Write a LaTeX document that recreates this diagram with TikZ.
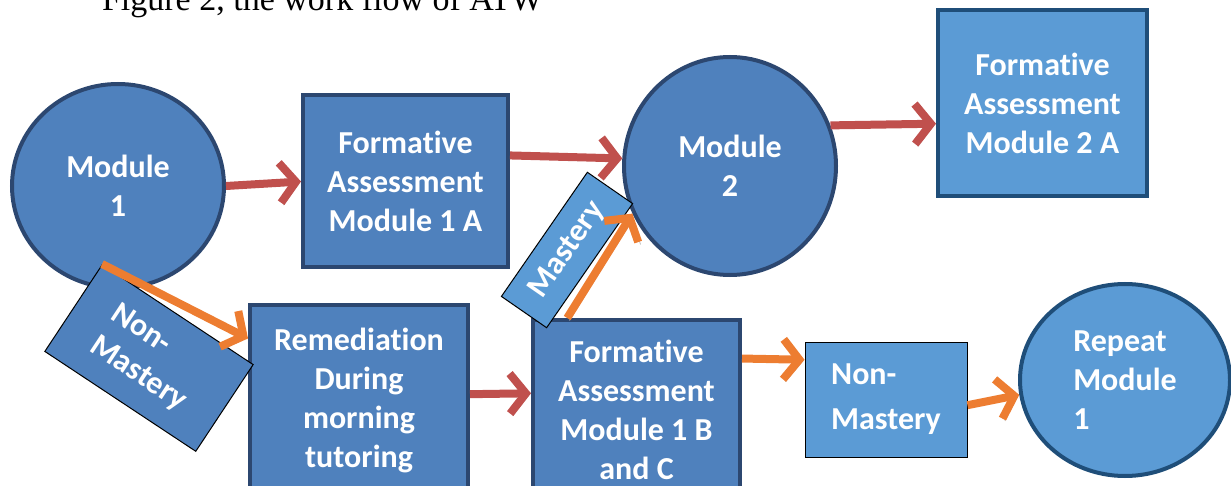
\documentclass[tikz,border=0pt]{standalone}
\usepackage{fontspec}
\setmainfont{Carlito}[Ligatures=NoCommon]
\newfontfamily\capfont{Liberation Serif}
\usetikzlibrary{arrows.meta,shapes.geometric}

\definecolor{modblue}{HTML}{4F81BD}
\definecolor{litblue}{HTML}{5B9BD5}
\definecolor{edgeblue}{HTML}{2C4770}
\definecolor{rimblue}{HTML}{1F4E79}
\definecolor{arrred}{HTML}{C0504D}
\definecolor{arrorange}{HTML}{ED7D31}

\begin{document}
\begin{tikzpicture}[x=0.5pt,y=-0.5pt,
    txt/.style={text=white,font=\bfseries\fontsize{16}{19.5}\selectfont,align=center},
    box/.style={txt,draw=edgeblue,line width=2pt,fill=modblue,inner sep=0pt},
    blob/.style={box,ellipse},
    tag/.style={txt,draw=black,line width=0.5pt,inner sep=0pt},
    flow/.style={line width=4pt,-{Straight Barb[length=8pt,width=20pt]},
      preaction={draw=black!25,transform canvas={shift={(1.2pt,-1.2pt)}}}}]
  \useasboundingbox (0,0) rectangle (1231,486);
  \node[font=\capfont\fontsize{17}{20}\selectfont,anchor=base west] (cap) at (95,11)
    {Figure 2, the work flow of ATW};
  % modules and assessments
  \node[blob,minimum width=106pt,minimum height=102pt] (m1) at (118,186) {Module\\1};
  \node[box,minimum width=102.5pt,minimum height=86pt] (f1a) at (405.5,181.5)
    {Formative\\Assessment\\Module 1 A};
  \node[blob,minimum width=106pt,minimum height=109pt] (m2) at (730,166) {Module\\2};
  \node[box,fill=litblue,draw=rimblue,minimum width=104.5pt,minimum height=93pt] (f2a)
    at (1042.5,103) {Formative\\Assessment\\Module 2 A};
  \node[box,minimum width=109pt,minimum height=95pt] (rem) at (359,400)
    {Remediation\\During\\morning\\tutoring};
  \node[box,minimum width=103.5pt,minimum height=90pt] (f1bc) at (636.5,410)
    {Formative\\Assessment\\Module 1 B\\and C};
  \node[tag,fill=litblue,minimum width=81pt,minimum height=57.5pt,align=left] (nm)
    at (886,399.5) {Non-\\[3pt]Mastery};
  \node[blob,fill=litblue,draw=rimblue,minimum width=105pt,minimum height=96pt,align=left]
    (rep) at (1125,380) {Repeat\\Module\\1};
  % red arrows
  \draw[flow,arrred] (m1.east) -- (f1a.west);
  \draw[flow,arrred] (f1a.14) -- (m2.176);
  \draw[flow,arrred] (m2.22) -- (f2a.191);
  \draw[flow,arrred] (rem.3) -- (f1bc.171);
  % tilted labels
  \node[tag,fill=modblue,rotate=-33.5,minimum width=90.5pt,minimum height=52pt,align=left]
    (nml) at (149,358) {Non-\\Mastery};
  \node[tag,fill=litblue,rotate=55.3,minimum width=75.5pt,minimum height=27.5pt] (ml)
    at (567,250) {Mastery};
  % orange arrows
  \draw[flow,arrorange] (nml.north west) -- (rem.151);
  \draw[flow,arrorange] (f1bc.127) -- (m2.206);
  \draw[flow,arrorange] (f1bc.26) -- (nm.154);
  \draw[flow,arrorange] (nm.-4) -- (rep.188);
\end{tikzpicture}
\end{document}
